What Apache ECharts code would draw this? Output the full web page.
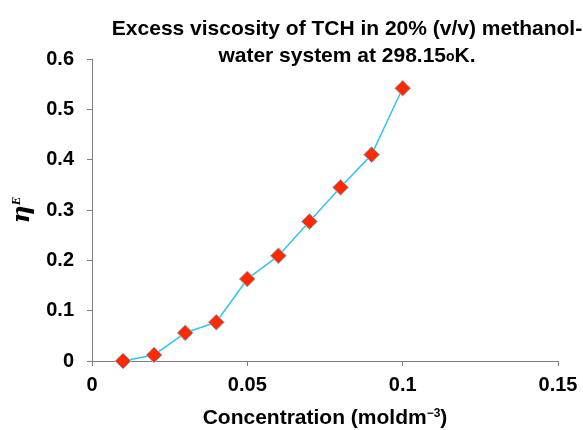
<!DOCTYPE html>
<html>
<head>
<meta charset="utf-8">
<script src="https://cdn.jsdelivr.net/npm/echarts@6/dist/echarts.min.js"></script>
<style>
  html, body { margin: 0; padding: 0; background: #fff; }
  #chart { width: 583px; height: 430px; }
</style>
</head>
<body>
<div id="chart"></div>
<script>
// concentration (mol dm^-3) and excess viscosity values
const concentration = [0.01, 0.02, 0.03, 0.04, 0.05, 0.06, 0.07, 0.08, 0.09, 0.1];
const excessViscosity = [0.0, 0.012, 0.056, 0.077, 0.163, 0.209, 0.277, 0.345, 0.41, 0.542];

const points = concentration.map((c, i) => [c, excessViscosity[i]]);

const chart = echarts.init(document.getElementById("chart"));

const axisColor = "#808080";
const labelFont = {
  fontFamily: "Liberation Sans, Arial, sans-serif",
  fontWeight: "bold",
  fontSize: 20,
  color: "#000",
};

chart.setOption({
  backgroundColor: "#fff",
  animation: false,
  title: {
    text: "Excess viscosity of TCH in 20% (v/v) methanol-\nwater system at 298.15{o|o}K.",
    left: 342,
    top: 11,
    textAlign: "center",
    textStyle: {
      fontFamily: "Liberation Sans, Arial, sans-serif",
      fontWeight: "bold",
      fontSize: 21,
      lineHeight: 27,
      color: "#000",
      rich: {
        o: { fontFamily: "Liberation Sans, Arial, sans-serif", fontSize: 14, fontWeight: "bold", color: "#000", verticalAlign: "bottom", padding: [0, 0, 6, 0] },
      },
    },
  },
  grid: {
    left: 92,
    right: 25,
    top: 59,
    bottom: 69,
    containLabel: false,
    outerBoundsMode: "none",
  },
  xAxis: {
    type: "value",
    min: 0,
    max: 0.15,
    interval: 0.05,
    name: "Concentration (moldm{sup|−3})",
    nameLocation: "middle",
    nameGap: 47,
    nameTextStyle: {
      ...labelFont,
      fontSize: 21,
      rich: {
        sup: { fontFamily: "Liberation Sans, Arial, sans-serif", fontSize: 12, color: "#000", verticalAlign: "top", padding: [0, 0, 9, 0] },
      },
    },
    axisLine: { onZero: false, lineStyle: { color: axisColor, width: 1 } },
    axisTick: { show: true, inside: false, length: 5, lineStyle: { color: axisColor } },
    axisLabel: { ...labelFont, margin: 14, formatter: (v) => String(+v.toFixed(2)) },
    splitLine: { show: false },
  },
  yAxis: {
    type: "value",
    min: 0,
    max: 0.6,
    interval: 0.1,
    name: "{eta|η}{e|E}",
    nameLocation: "middle",
    nameGap: 51,
    nameRotate: 90,
    nameTextStyle: {
      rich: {
        eta: { fontFamily: "DejaVu Serif, Times New Roman, serif", fontStyle: "italic", fontWeight: "bold", fontSize: 25, color: "#000" },
        e: { fontFamily: "Liberation Serif, Times New Roman, serif", fontStyle: "italic", fontWeight: "bold", fontSize: 13, color: "#000", verticalAlign: "top", padding: [0, 0, 10, 0] },
      },
    },
    axisLine: { show: true, lineStyle: { color: axisColor, width: 1 } },
    axisTick: { show: true, inside: false, length: 5, lineStyle: { color: axisColor } },
    axisLabel: { ...labelFont, margin: 18, formatter: (v) => String(+v.toFixed(1)) },
    splitLine: { show: false },
  },
  series: [
    {
      type: "line",
      data: points,
      symbol: "diamond",
      symbolSize: 16,
      lineStyle: { color: "#33c3f0", width: 1.5 },
      itemStyle: { color: "#ff2a00", borderColor: "#7fcbe8", borderWidth: 1 },
    },
  ],
});
</script>
</body>
</html>
